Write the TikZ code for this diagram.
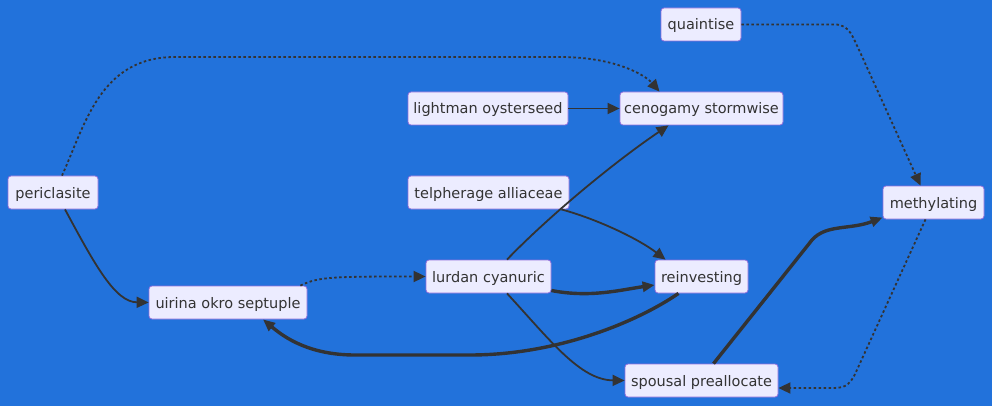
\documentclass[tikz,border=0pt]{standalone}
\usepackage{fontspec}
\setmainfont{DejaVu Sans}
\usetikzlibrary{arrows.meta,calc}
\definecolor{bg}{RGB}{34,114,219}
\definecolor{nodefill}{RGB}{236,236,255}
\definecolor{nodeborder}{RGB}{147,112,219}
\definecolor{edge}{RGB}{51,51,51}
\tikzset{
  box/.style={draw=nodeborder, fill=nodefill, rounded corners=3pt, line width=0.8pt,
    minimum height=33pt, inner xsep=0pt, text height=12pt, text depth=1pt,
    text=edge, font=\fontsize{14.5}{17}\selectfont},
  link/.style={draw=edge, line width=1.8pt, -{Triangle[length=12pt,width=11pt]}},
  thicklink/.style={draw=edge, line width=3.4pt, -{Triangle[length=12pt,width=10pt]}},
  dotlink/.style={draw=edge, line width=1.8pt, dash pattern=on 2.5pt off 2.5pt, -{Triangle[length=12pt,width=11pt]}},
}
\begin{document}
\begin{tikzpicture}[x=1pt,y=-1pt]
\fill[bg] (0,0) rectangle (992,406);
\useasboundingbox (0,0) rectangle (992,406);
\node[box, minimum width=80pt] (qua) at (701,24.5) {quaintise};
\node[box, minimum width=160pt] (lig) at (488,108.5) {lightman oysterseed};
\node[box, minimum width=163pt] (cen) at (701.5,108.5) {cenogamy stormwise};
\node[box, minimum width=90pt] (per) at (53,192.5) {periclasite};
\node[box, minimum width=161pt] (tel) at (488.5,192.5) {telpherage alliaceae};
\node[box, minimum width=101pt] (met) at (933.5,202.5) {methylating};
\node[box, minimum width=125pt] (lur) at (488.5,276.5) {lurdan cyanuric};
\node[box, minimum width=93pt] (rei) at (701.5,276.5) {reinvesting};
\node[box, minimum width=158pt] (uir) at (228,302.5) {uirina okro septuple};
\node[box, minimum width=153pt] (spo) at (701.5,380.5) {spousal preallocate};

% periclasite -> cenogamy (dotted)
\draw[dotlink] ($(per.north)+(9,0)$) .. controls (85,125) and (100,57) .. (175,57)
  -- (560,57) .. controls (615,57) and (645,75) .. ($(cen.north)+(-42,0)$);
% periclasite -> uirina
\draw[link] ($(per.south)+(12,0)$) .. controls (95,265) and (115,302) .. (uir.west);
% uirina -> lurdan (dotted)
\draw[dotlink] ($(uir.north east)+(-7,0)$) .. controls (318,277) and (330,276.5) .. (lur.west);
% lightman -> cenogamy
\draw[link] (lig.east) -- (cen.west);
% lurdan -> cenogamy
\draw[link] ($(lur.north)+(18.5,0)$) .. controls (545,220) and (610,165) .. ($(cen.south)+(-33,0)$);
% telpherage -> reinvesting
\draw[link] ($(tel.south east)+(-8,0)$) .. controls (600,220) and (640,240) .. ($(rei.north)+(-36,0)$);
% lurdan -> reinvesting (thick)
\draw[thicklink] ($(lur.east)+(0,14)$) .. controls (590,298) and (620,290) .. ($(rei.west)+(0,8.5)$);
% reinvesting -> uirina (thick)
\draw[thicklink] ($(rei.south)+(-23,0)$) .. controls (640,320) and (560,355) .. (470,355)
  -- (355,355) .. controls (310,355) and (285,338) .. ($(uir.south)+(35,0)$);
% lurdan -> spousal
\draw[link] ($(lur.south)+(18.5,0)$) .. controls (550,340) and (580,380) .. (spo.west);
% spousal -> methylating (thick)
\draw[thicklink] ($(spo.north)+(12,0)$) -- (812,240) .. controls (826,224) and (850,230) .. ($(met.west)+(0,15)$);
% quaintise -> methylating (dotted)
\draw[dotlink] (qua.east) -- (835,24.5) .. controls (850,24.5) and (853,38) .. (860,52)
  -- ($(met.north)+(-13,0)$);
% methylating -> spousal (dotted)
\draw[dotlink] ($(met.south)+(-8,0)$) -- (856,372) .. controls (849,388) and (842,388) .. (830,388)
  -- ($(spo.east)+(0,7.5)$);
\end{tikzpicture}
\end{document}
